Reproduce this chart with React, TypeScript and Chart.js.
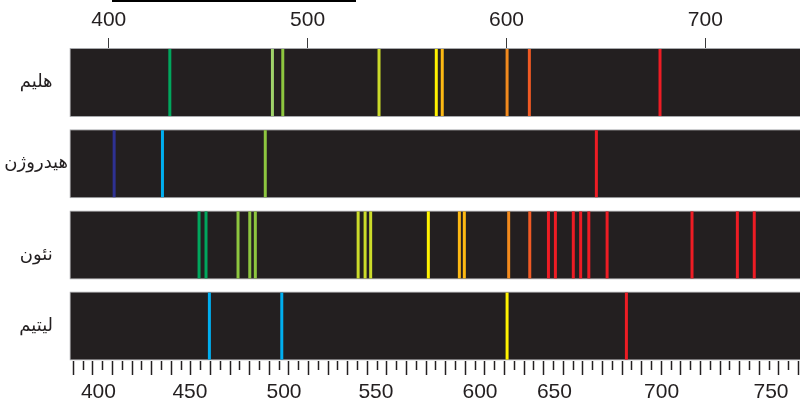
import React, { useEffect, useRef } from 'react';
import { Chart, registerables } from 'chart.js';

Chart.register(...registerables);

// ---- data ----
const rowLabels = ['هلیم', 'هیدروژن', 'نئون', 'لیتیم'];

const heliumNm = [430.7, 482.3, 487.5, 535.9, 564.7, 567.7, 600.3, 611.5, 677.2];
const hydrogenNm = [402.7, 427.0, 478.7, 645.2];
const neonNm = [
  445.4, 448.9, 465.0, 470.9, 473.7, 525.4, 528.9, 531.7, 560.7, 576.3, 578.8,
  601.1, 611.7, 621.1, 624.6, 633.6, 637.3, 641.4, 650.6, 693.3, 716.1, 724.6,
];
const lithiumNm = [450.6, 487.0, 600.3, 660.3];

const topTicks = [400, 500, 600, 700];
const bottomLabels = ['400', '450', '500', '550', '600', '650', '700', '750'];
// where each bottom label sits on the ruler
const bottomLabelAt = [397.8, 444.5, 492.5, 539.4, 592.5, 630.5, 685.2, 741.0];
const stripRange = [380.25, 760];

// ---- styles ----
const GREEN = '#00a65d';
const LGREEN = '#9fd26a';
const YGREEN = '#8dc63f';
const CHART = '#cbdb2a';
const YELLOW = '#fff200';
const GOLD = '#fdb913';
const ORANGE = '#f38a1d';
const ORED = '#f15a24';
const RED = '#ed1c24';
const NAVY = '#2e3192';
const CYAN = '#00aeef';

const heliumColors = [GREEN, LGREEN, YGREEN, CHART, YELLOW, GOLD, ORANGE, ORED, RED];
const hydrogenColors = [NAVY, CYAN, YGREEN, RED];
const neonColors = [
  GREEN, GREEN, YGREEN, YGREEN, YGREEN, CHART, CHART, CHART, YELLOW, GOLD, GOLD,
  ORANGE, ORED, RED, RED, RED, RED, RED, RED, RED, RED, RED,
];
const lithiumColors = [CYAN, CYAN, YELLOW, RED];

const X_MIN = 380;
const X_MAX = 747.6;
const R_MIN = 382.8;
const R_MAX = 755.8;
const RULER_START = 385;
const RULER_END = 755;
const RULER_STEP = 5;
const Y_MIN = -0.4249;
const Y_MAX = 3.4298;

const NUM_FONT = 'Liberation Sans, Arial, sans-serif';
const TEXT = '#231f20';

export default function App() {
  const ref = useRef<HTMLCanvasElement>(null);

  useEffect(() => {
    if (!ref.current) return;
    const rulerTicks: number[] = [];
    for (let v = RULER_START; v <= RULER_END; v += RULER_STEP) rulerTicks.push(v);
    const longTicks = rulerTicks.filter((_, i) => i % 2 === 0);
    const rows = [heliumNm, hydrogenNm, neonNm, lithiumNm];
    const rowColors = [heliumColors, hydrogenColors, neonColors, lithiumColors];
    const labelLines = rowLabels.map((l, i) => (i === 2 ? ['', l] : l));
    const setTicks = (vals: number[]) => (scale: any) => {
      scale.ticks = vals.map((v) => ({ value: v }));
    };

    const chart = new Chart(ref.current, {
      type: 'scatter',
      data: {
        datasets: [
          {
            type: 'bar',
            indexAxis: 'y',
            data: rowLabels.map((_, i) => ({ x: stripRange, y: i })),
            backgroundColor: '#231f20',
            borderColor: '#a7a9ac',
            borderWidth: 1,
            borderSkipped: false,
            barPercentage: 0.85,
            categoryPercentage: 1,
            xAxisID: 'x',
            yAxisID: 'y',
            clip: false,
            order: 2,
          } as any,
          ...rows.map((nm, r) => ({
            type: 'scatter',
            data: nm.map((v) => ({ x: v, y: r })),
            pointStyle: 'line',
            pointRotation: 90,
            pointRadius: 33.5,
            pointBorderWidth: 3,
            pointBorderColor: rowColors[r],
            pointBackgroundColor: rowColors[r],
            showLine: false,
            xAxisID: 'x',
            yAxisID: 'y',
            order: 1,
          })) as any,
        ],
      },
      options: {
        responsive: false,
        animation: false,
        events: [],
        layout: { padding: 0, autoPadding: false },
        plugins: { legend: { display: false }, tooltip: { enabled: false } },
        scales: {
          x: {
            type: 'linear',
            axis: 'x',
            position: 'top',
            min: X_MIN,
            max: X_MAX,
            afterBuildTicks: setTicks(topTicks),
            afterFit: (s: any) => {
              s.height = 48;
            },
            border: { display: false },
            grid: { drawOnChartArea: false, tickLength: 10, color: '#3a3a3a', tickWidth: 1 },
            ticks: {
              font: { family: NUM_FONT, size: 21 },
              color: TEXT,
              padding: 5,
              maxRotation: 0,
              autoSkip: false,
              callback: (v: any) => String(v),
            },
          },
          xr1: {
            type: 'linear',
            axis: 'x',
            position: 'bottom',
            weight: 1,
            min: R_MIN,
            max: R_MAX,
            afterBuildTicks: setTicks(rulerTicks),
            border: { display: false },
            grid: { drawOnChartArea: false, tickLength: 9, color: TEXT, tickWidth: 1.5 },
            ticks: { display: false, autoSkip: false },
          },
          xr2: {
            type: 'linear',
            axis: 'x',
            position: 'bottom',
            weight: 2,
            min: R_MIN,
            max: R_MAX,
            afterBuildTicks: setTicks(longTicks),
            border: { display: false },
            grid: { drawOnChartArea: false, tickLength: 5, color: TEXT, tickWidth: 1.5 },
            ticks: { display: false, autoSkip: false },
          },
          xl: {
            type: 'linear',
            axis: 'x',
            position: 'bottom',
            weight: 3,
            min: R_MIN,
            max: R_MAX,
            afterBuildTicks: setTicks(bottomLabelAt),
            afterFit: (s: any) => {
              s.height = 29;
            },
            border: { display: false },
            grid: { display: false },
            ticks: {
              font: { family: NUM_FONT, size: 21 },
              color: TEXT,
              padding: -3.6,
              maxRotation: 0,
              autoSkip: false,
              callback: (_v: any, i: number) => bottomLabels[i],
            },
          },
          y: {
            type: 'linear',
            axis: 'y',
            position: 'left',
            reverse: true,
            offset: false,
            min: Y_MIN,
            max: Y_MAX,
            afterBuildTicks: setTicks(rowLabels.map((_, i) => i)),
            afterFit: (s: any) => {
              s.width = 69;
            },
            border: { display: false },
            grid: { display: false, offset: false },
            ticks: {
              crossAlign: 'center',
              padding: -7,
              autoSkip: false,
              font: { family: 'DejaVu Sans', size: 18 },
              color: TEXT,
              callback: (_v: any, i: number) => labelLines[i],
            },
          },
        } as any,
      },
    });
    return () => chart.destroy();
  }, []);

  return (
    <div style={{ position: 'absolute', left: 0, top: 0, width: 800, height: 404, background: '#fff' }}>
      <canvas ref={ref} width={800} height={404} style={{ display: 'block' }} />
      <div style={{ position: 'absolute', left: 112, top: 0, width: 244, height: 2, background: '#000' }} />
    </div>
  );
}
